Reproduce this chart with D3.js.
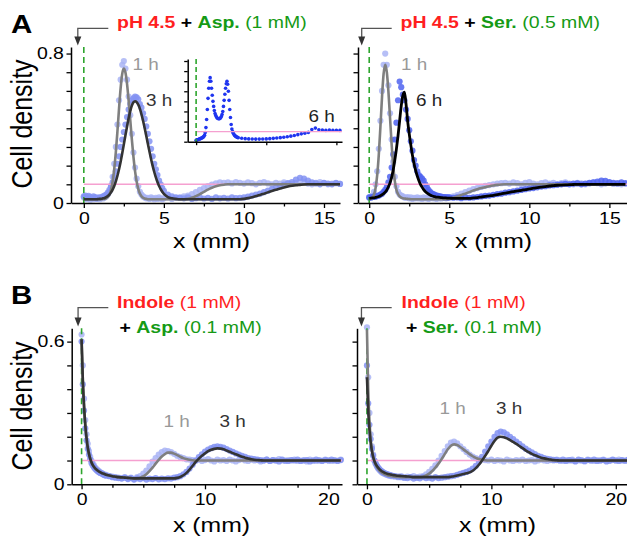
<!DOCTYPE html>
<meta charset="utf-8">
<script src="https://d3js.org/d3.v7.min.js"></script>
<style>
  body { margin: 0; background: #fff; }
  svg { display: block; font-family: Arial, "Liberation Sans", sans-serif; }
</style>
<div id="chart"></div>
<script>
// ---------- data ----------
const uniformLevel = 0.1;

// panel A sample positions (mm)
const xA = [0,0.1,0.2,0.3,0.4,0.5,0.6,0.7,0.8,0.9,1,1.1,1.2,1.3,1.4,1.5,1.6,1.7,1.8,1.9,2,2.1,2.2,2.3,2.4,2.5,2.6,2.7,2.8,2.9,3,3.1,3.2,3.3,3.4,3.5,3.6,3.7,3.8,3.9,4,4.1,4.2,4.3,4.4,4.5,4.6,4.7,4.8,4.9,5,5.25,5.5,5.75,6,6.25,6.5,6.75,7,7.25,7.5,7.75,8,8.25,8.5,8.75,9,9.25,9.5,9.75,10,10.25,10.5,10.75,11,11.25,11.5,11.75,12,12.25,12.5,12.75,13,13.25,13.5,13.75,14,14.25,14.5,14.75,15,15.25,15.5,15.75,16];

// A left: pH 4.5 + Asp. (1 mM)
const aspFit1h = [0.02,0.02,0.02,0.02,0.02,0.02,0.02,0.02,0.02,0.02,
  0.02,0.02,0.021,0.022,0.025,0.032,0.046,0.071,0.115,0.181,
  0.272,0.384,0.505,0.615,0.692,0.72,0.698,0.638,0.548,0.445,
  0.34,0.247,0.171,0.115,0.076,0.051,0.036,0.028,0.024,0.022,
  0.02,0.02,0.02,0.02,0.02,0.02,0.02,0.02,0.02,0.02,0.02,
  0.02,0.02,0.02,0.02,0.02,0.022,0.028,0.037,0.048,0.06,0.072,0.082,0.09,0.095,0.098,
  0.1,0.1,0.1,0.1,0.1,0.1,0.1,0.1,0.1,0.1,0.1,0.1,0.1,0.1,0.1,0.1,0.1,0.1,0.1,0.1,0.1,0.1,0.1,0.1,0.1,0.1,0.1,0.1,0.1];
const aspFit3h = [0.02,0.02,0.02,0.02,0.02,0.02,0.02,0.02,0.02,0.021,
  0.022,0.023,0.025,0.027,0.031,0.037,0.045,0.057,0.072,0.091,
  0.116,0.146,0.181,0.221,0.266,0.314,0.363,0.41,0.455,0.492,
  0.521,0.539,0.545,0.54,0.527,0.505,0.475,0.44,0.401,0.36,
  0.317,0.276,0.236,0.199,0.166,0.137,0.112,0.091,0.074,0.06,0.049,
  0.032,0.025,0.022,0.02,0.02,0.02,0.02,0.02,0.02,0.02,0.02,0.02,0.02,0.02,0.02,0.02,0.02,0.02,0.02,
  0.022,0.026,0.031,0.037,0.043,0.05,0.057,0.064,0.071,0.077,0.083,0.088,0.092,0.095,0.097,0.099,
  0.1,0.1,0.1,0.1,0.1,0.1,0.1,0.1,0.1];
const aspDots1h = [0.03,0.025,0.02,0.028,0.018,0.024,0.02,0.03,0.022,0.026,
  0.02,0.028,0.024,0.03,0.035,0.045,0.06,0.09,0.14,0.21,
  0.3,0.42,0.55,0.66,0.74,0.76,0.72,0.66,0.57,0.47,
  0.37,0.27,0.19,0.13,0.09,0.06,0.045,0.035,0.03,0.025,
  0.028,0.022,0.03,0.025,0.02,0.027,0.022,0.03,0.024,0.02,0.026,
  0.03,0.022,0.028,0.03,0.035,0.04,0.048,0.058,0.07,0.08,0.09,0.098,0.105,0.11,0.108,
  0.11,0.105,0.112,0.108,0.104,0.11,0.106,0.1,0.108,0.112,0.105,0.1,0.108,0.104,0.11,0.106,0.102,0.108,0.112,0.115,0.104,0.1,0.108,0.112,0.106,0.1,0.104,0.108,0.102];
const aspDots3h = [0.035,0.04,0.03,0.038,0.032,0.028,0.035,0.03,0.025,0.03,
  0.028,0.032,0.035,0.04,0.045,0.055,0.07,0.09,0.11,0.14,
  0.17,0.21,0.25,0.3,0.34,0.38,0.42,0.46,0.5,0.53,
  0.55,0.56,0.57,0.565,0.555,0.53,0.51,0.48,0.45,0.41,
  0.37,0.33,0.29,0.25,0.21,0.18,0.15,0.12,0.1,0.08,0.065,
  0.045,0.035,0.03,0.028,0.025,0.03,0.022,0.026,0.03,0.024,0.028,0.022,0.03,0.025,0.028,0.024,0.03,0.026,0.028,
  0.03,0.034,0.04,0.045,0.05,0.058,0.066,0.075,0.082,0.09,0.098,0.105,0.112,0.125,0.135,0.13,
  0.12,0.11,0.105,0.1,0.108,0.104,0.1,0.106,0.102];

// A left inset: 6 h
const xInset = [0,0.1,0.2,0.3,0.4,0.5,0.6,0.7,0.8,0.9,1,1.1,1.2,1.3,1.4,1.5,1.6,1.7,1.8,1.9,2,2.1,2.2,2.3,2.4,2.5,2.6,2.7,2.8,2.9,3,3.1,3.2,3.3,3.4,3.5,3.6,3.7,3.8,3.9,4,4.1,4.2,4.3,4.4,4.5,4.6,4.7,4.8,4.9,5,5.1,5.2,5.3,5.4,5.5,5.6,5.7,5.8,5.9,6,6.5,7,7.5,8,8.5,9,9.5,10,10.5,11,11.5,12,12.5,13,13.5,14,14.5,15,15.5,16,16.5,17,17.5,18,18.5,19,19.5,20,20.5];
const aspDots6h = [0.015,0.02,0.02,0.022,0.025,0.028,0.03,0.033,0.036,0.04,
  0.045,0.052,0.065,0.09,0.14,0.22,0.32,0.43,0.53,0.6,
  0.635,0.6,0.53,0.46,0.4,0.35,0.31,0.28,0.26,0.245,
  0.235,0.23,0.228,0.228,0.23,0.238,0.25,0.27,0.3,0.35,
  0.41,0.47,0.53,0.575,0.6,0.57,0.5,0.41,0.32,0.24,
  0.17,0.125,0.1,0.085,0.072,0.062,0.055,0.05,0.046,0.042,0.04,
  0.034,0.03,0.028,0.027,0.026,0.026,0.027,0.028,0.03,0.033,0.036,0.04,0.044,0.049,0.055,0.062,0.07,0.078,0.085,0.092,0.12,0.135,0.118,0.116,0.112,0.115,0.114,0.113,0.112];

// A right: pH 4.5 + Ser. (0.5 mM)
const serFit1h = [0.021,0.023,0.029,0.045,0.081,0.15,0.26,0.409,0.567,0.692,
  0.74,0.701,0.596,0.457,0.316,0.199,0.117,0.07,0.048,0.035,
  0.029,0.026,0.024,0.023,0.022,0.021,0.02,0.02,0.02,0.02,
  0.02,0.02,0.02,0.02,0.02,0.02,0.02,0.02,0.02,0.02,
  0.02,0.02,0.02,0.02,0.02,0.02,0.02,0.02,0.02,0.021,0.022,
  0.028,0.035,0.043,0.05,0.058,0.067,0.074,0.08,0.085,0.09,0.094,0.097,0.099,
  0.1,0.1,0.1,0.1,0.1,0.1,0.1,0.1,0.1,0.1,0.1,0.1,0.1,0.1,0.1,0.1,0.1,0.1,0.1,0.1,0.1,0.1,0.1,0.1,0.1,0.1,0.1,0.1,0.1,0.1,0.1];
const serFit6h = [0.025,0.026,0.027,0.028,0.03,0.032,0.035,0.039,0.044,0.05,
  0.058,0.07,0.087,0.108,0.138,0.178,0.23,0.29,0.36,0.44,
  0.52,0.575,0.594,0.53,0.44,0.37,0.31,0.255,0.21,0.175,
  0.145,0.12,0.1,0.085,0.072,0.062,0.054,0.048,0.043,0.039,
  0.036,0.034,0.032,0.031,0.03,0.029,0.028,0.027,0.027,0.026,0.026,
  0.025,0.025,0.025,0.025,0.025,
  0.027,0.029,0.032,0.035,0.038,0.041,0.045,0.049,0.053,0.057,0.061,0.065,0.068,0.072,0.075,0.079,0.082,0.085,0.088,0.091,0.093,0.095,0.096,0.097,0.098,0.099,
  0.1,0.1,0.1,0.1,0.1,0.1,0.1,0.1,0.1,0.1,0.1,0.1,0.1];
const serDots1h = [0.03,0.035,0.04,0.06,0.1,0.17,0.29,0.44,0.6,0.74,
  0.8,0.74,0.63,0.48,0.34,0.22,0.14,0.09,0.06,0.045,
  0.04,0.035,0.03,0.028,0.032,0.025,0.03,0.022,0.028,0.025,
  0.03,0.024,0.028,0.022,0.03,0.025,0.028,0.022,0.026,0.03,
  0.025,0.028,0.022,0.03,0.026,0.024,0.028,0.03,0.025,0.028,0.032,
  0.036,0.042,0.05,0.058,0.066,0.074,0.08,0.086,0.092,0.096,0.1,0.104,0.106,
  0.108,0.104,0.11,0.106,0.1,0.108,0.112,0.104,0.1,0.106,0.11,0.104,0.108,0.1,0.106,0.11,0.104,0.1,0.108,0.105,0.1,0.104,0.11,0.106,0.1,0.104,0.108,0.102,0.106,0.1,0.104];
const serDots6h = [0.03,0.028,0.032,0.035,0.033,0.038,0.04,0.045,0.05,0.06,
  0.07,0.085,0.11,0.14,0.19,0.26,0.34,0.43,0.55,0.65,
  0.62,0.58,0.55,0.5,0.45,0.39,0.33,0.28,0.23,0.2,
  0.17,0.15,0.14,0.13,0.12,0.1,0.085,0.07,0.06,0.052,
  0.048,0.044,0.04,0.038,0.035,0.034,0.032,0.03,0.032,0.029,0.03,
  0.028,0.03,0.026,0.03,0.028,
  0.03,0.032,0.035,0.038,0.04,0.044,0.048,0.05,0.055,0.058,0.062,0.066,0.07,0.074,0.078,0.08,0.084,0.088,0.09,0.094,0.095,0.098,0.1,0.102,0.1,0.104,
  0.105,0.1,0.104,0.108,0.11,0.115,0.12,0.118,0.112,0.108,0.105,0.11,0.106];

// panel B sample positions (mm)
const xB = [0,0.1,0.2,0.3,0.4,0.5,0.6,0.7,0.8,0.9,1,1.1,1.2,1.3,1.4,1.5,1.6,1.7,1.8,1.9,2,2.25,2.5,2.75,3,3.25,3.5,3.75,4,4.25,4.5,4.75,5,5.25,5.5,5.75,6,6.25,6.5,6.75,7,7.25,7.5,7.75,8,8.25,8.5,8.75,9,9.25,9.5,9.75,10,10.25,10.5,10.75,11,11.25,11.5,11.75,12,12.25,12.5,12.75,13,13.25,13.5,13.75,14,14.25,14.5,14.75,15,15.25,15.5,15.75,16,16.25,16.5,16.75,17,17.25,17.5,17.75,18,18.25,18.5,18.75,19,19.25,19.5,19.75,20,20.25,20.5,20.75,21];

// B left: Indole (1 mM) + Asp. (0.1 mM)
const indAspFit1h = [0.61,0.44,0.33,0.25,0.195,0.155,0.128,0.108,0.093,0.082,
  0.074,0.067,0.062,0.058,0.054,0.051,0.048,0.046,0.044,0.042,0.04,
  0.037,0.034,0.032,0.03,0.029,0.028,0.027,0.026,0.025,0.026,0.028,0.033,0.042,0.055,0.07,0.087,0.103,0.117,0.127,
  0.133,0.133,0.129,0.123,0.116,0.11,0.106,0.103,0.101,
  0.1,0.1,0.1,0.1,0.1,0.1,0.1,0.1,0.1,0.1,0.1,0.1,0.1,0.1,0.1,0.1,0.1,0.1,0.1,0.1,0.1,0.1,0.1,0.1,
  0.1,0.1,0.1,0.1,0.1,0.1,0.1,0.1,0.1,0.1,0.1,0.1,0.1,0.1,0.1,0.1,0.1,0.1,0.1,0.1,0.1,0.1,0.1,0.1];
const indAspFit3h = [0.61,0.44,0.33,0.25,0.195,0.155,0.128,0.108,0.093,0.082,
  0.074,0.067,0.062,0.058,0.054,0.051,0.048,0.046,0.044,0.042,0.04,
  0.037,0.034,0.032,0.03,0.029,0.028,0.027,0.026,
  0.025,0.025,0.025,0.025,0.025,0.025,0.025,0.025,0.025,0.025,0.025,0.025,0.025,0.025,
  0.027,0.031,0.038,0.048,0.062,0.078,0.094,0.108,0.12,0.13,0.139,0.145,0.149,0.151,0.15,0.147,0.142,0.137,0.131,0.126,0.121,0.116,0.112,0.108,0.105,0.103,0.102,0.101,
  0.1,0.1,0.1,0.1,0.1,0.1,0.1,0.1,0.1,0.1,0.1,0.1,0.1,0.1,0.1,0.1,0.1,0.1,0.1,0.1,0.1,0.1,0.1,0.1,0.1,0.1];
const indAspDots1h = [0.63,0.5,0.36,0.27,0.21,0.17,0.14,0.115,0.1,0.088,
  0.08,0.07,0.065,0.06,0.055,0.05,0.048,0.045,0.042,0.04,0.04,
  0.035,0.032,0.03,0.028,0.026,0.03,0.024,0.028,0.022,0.03,0.035,0.045,0.058,0.075,0.095,0.11,0.125,0.135,0.142,0.14,0.135,0.128,0.12,0.114,0.11,0.105,0.104,0.102,
  0.1,0.104,0.098,0.102,0.106,0.1,0.096,0.104,0.1,0.102,0.098,0.104,0.1,0.096,0.102,0.106,0.1,0.098,0.104,0.1,0.102,0.096,0.1,0.104,
  0.098,0.102,0.1,0.106,0.1,0.098,0.102,0.1,0.104,0.098,0.1,0.102,0.096,0.104,0.1,0.098,0.102,0.1,0.104,0.1,0.098,0.102,0.1,0.104];
const indAspDots3h = [0.6,0.42,0.31,0.235,0.185,0.15,0.125,0.105,0.09,0.08,
  0.072,0.065,0.06,0.055,0.052,0.048,0.046,0.043,0.04,0.038,0.036,
  0.034,0.03,0.028,0.026,0.024,0.028,0.022,0.026,0.02,0.025,0.022,0.026,0.02,0.024,0.022,0.026,0.021,0.024,0.022,0.025,0.024,0.028,
  0.03,0.034,0.042,0.052,0.066,0.082,0.1,0.114,0.126,0.138,0.146,0.152,0.158,0.16,0.158,0.154,0.148,0.142,0.136,0.13,0.125,0.12,0.115,0.11,0.108,0.106,0.104,0.102,
  0.1,0.104,0.098,0.102,0.1,0.096,0.104,0.1,0.098,0.102,0.1,0.104,0.098,0.1,0.102,0.096,0.1,0.104,0.1,0.098,0.102,0.1,0.104,0.1,0.098,0.102];

// B right: Indole (1 mM) + Ser. (0.1 mM)
const indSerFit1h = [0.65,0.4,0.27,0.19,0.145,0.115,0.095,0.082,0.072,0.064,
  0.058,0.053,0.049,0.046,0.043,0.041,0.039,0.037,0.036,0.035,0.034,
  0.032,0.031,0.03,0.03,0.03,0.03,0.03,0.03,0.03,
  0.032,0.037,0.045,0.056,0.07,0.087,0.106,0.127,0.147,0.162,0.168,0.165,0.157,0.147,0.137,0.127,0.118,0.111,0.106,0.103,0.101,
  0.1,0.1,0.1,0.1,0.1,0.1,0.1,0.1,0.1,0.1,0.1,0.1,0.1,0.1,0.1,0.1,0.1,0.1,0.1,0.1,0.1,0.1,0.1,
  0.1,0.1,0.1,0.1,0.1,0.1,0.1,0.1,0.1,0.1,0.1,0.1,0.1,0.1,0.1,0.1,0.1,0.1,0.1,0.1,0.1,0.1,0.1];
const indSerFit3h = [0.45,0.31,0.23,0.175,0.14,0.115,0.098,0.086,0.077,0.07,
  0.064,0.059,0.055,0.052,0.049,0.047,0.045,0.043,0.042,0.041,0.04,
  0.038,0.036,0.035,0.034,0.033,0.032,
  0.03,0.03,0.03,0.03,0.03,0.03,0.03,0.03,0.03,0.03,0.03,0.03,
  0.032,0.034,0.037,0.04,0.043,0.046,0.05,0.057,0.068,0.082,0.1,0.12,0.14,0.162,0.182,0.196,0.2,0.198,0.193,0.186,0.178,0.17,0.161,0.152,0.143,0.135,0.128,0.122,0.117,0.112,0.109,0.106,0.104,0.102,0.101,
  0.1,0.1,0.1,0.1,0.1,0.1,0.1,0.1,0.1,0.1,0.1,0.1,0.1,0.1,0.1,0.1,0.1,0.1,0.1,0.1,0.1,0.1,0.1];
const indSerDots1h = [0.66,0.45,0.3,0.21,0.16,0.125,0.1,0.085,0.075,0.066,
  0.06,0.055,0.05,0.047,0.044,0.042,0.04,0.038,0.036,0.035,0.034,
  0.032,0.03,0.034,0.028,0.032,0.03,0.034,0.028,0.032,
  0.035,0.042,0.052,0.065,0.08,0.1,0.12,0.14,0.16,0.175,0.18,0.172,0.16,0.148,0.136,0.125,0.116,0.11,0.106,0.104,0.102,
  0.1,0.104,0.098,0.102,0.1,0.096,0.104,0.1,0.098,0.102,0.1,0.104,0.098,0.1,0.102,0.096,0.1,0.104,0.1,0.098,0.102,0.1,0.104,
  0.1,0.098,0.102,0.1,0.104,0.098,0.1,0.102,0.096,0.104,0.1,0.098,0.102,0.1,0.104,0.1,0.098,0.102,0.1,0.104,0.1,0.098,0.102];
const indSerDots3h = [0.5,0.34,0.25,0.19,0.15,0.12,0.1,0.088,0.078,0.07,
  0.064,0.058,0.054,0.05,0.047,0.045,0.043,0.041,0.04,0.038,0.037,
  0.035,0.032,0.03,0.028,0.026,0.03,0.024,0.028,0.025,0.03,0.026,0.028,0.024,0.03,0.026,0.028,0.03,0.032,
  0.034,0.036,0.04,0.044,0.048,0.052,0.058,0.066,0.078,0.095,0.115,0.138,0.16,0.18,0.2,0.215,0.222,0.218,0.21,0.2,0.19,0.18,0.17,0.16,0.15,0.142,0.134,0.127,0.12,0.115,0.11,0.107,0.105,0.103,0.102,
  0.1,0.104,0.098,0.102,0.1,0.096,0.104,0.1,0.098,0.102,0.1,0.104,0.098,0.1,0.102,0.096,0.1,0.104,0.1,0.098,0.102,0.1,0.104];

// ticks
const yTicksA = [0,0.1,0.2,0.3,0.4,0.5,0.6,0.7,0.8];
const yTicksB = [0,0.1,0.2,0.3,0.4,0.5,0.6];
const xMajorA = [0,5,10,15], xMinorA = [2.5,7.5,12.5];
const xMajorB = [0,10,20], xMinorB = [2.5,5,7.5,12.5,15,17.5];
const xTicksInset = [0,10,20];

// ---------- drawing ----------
const SX = 1.18; // figure text is slightly wide
const col = {
  light: "#a9b4f5", mid: "#8292f2", deep: "#4f63f0", inset: "#1f35f0",
  fit1h: "#7f7f7f", fit3h: "#333333", fit6h: "#000000",
  pink: "#f5a0d0", green: "#2ea52e", red: "#ff1f1f", dgreen: "#159a15"
};

const svg = d3.select("#chart").append("svg")
  .attr("width", 627).attr("height", 540);

function addText(parent, x, y, str, o = {}) {
  const t = parent.append("text")
    .attr("transform", `translate(${x},${y}) scale(${SX},1)` + (o.rotate ? ` rotate(${o.rotate})` : ""))
    .attr("font-size", o.size || 16)
    .attr("font-weight", o.weight || "normal")
    .attr("fill", o.fill || "#000")
    .attr("text-anchor", o.anchor || "start");
  if (str != null) t.text(str);
  return t;
}

function title(x, y, parts) {
  const t = addText(svg, x, y, null, { size: 16.5 });
  parts.forEach(p => t.append("tspan").attr("fill", p[1]).attr("font-weight", p[2] ? "bold" : "normal").text(p[0]));
}

function arrow(x0, xTip, yTop, yTip) {
  svg.append("path")
    .attr("d", `M${x0},${yTop}H${xTip}V${yTip - 7}`)
    .attr("fill", "none").attr("stroke", "#555").attr("stroke-width", 1.3);
  svg.append("path")
    .attr("d", `M${xTip - 3.5},${yTip - 9}L${xTip + 3.5},${yTip - 9}L${xTip},${yTip}Z`)
    .attr("fill", "#333");
}

function panel(p) {
  const g = svg.append("g");
  const x = d3.scaleLinear().domain(p.xDom).range(p.xRange);
  const y = d3.scaleLinear().domain(p.yDom).range(p.yRange);

  p.dots.forEach(s => {
    g.append("g").selectAll("circle")
      .data(d3.zip(p.xs, s.ys))
      .join("circle")
      .attr("cx", d => x(d[0])).attr("cy", d => y(d[1]))
      .attr("r", s.r || 3.1)
      .attr("fill", s.color).attr("fill-opacity", s.op || 0.85);
  });

  // uniform density reference
  g.append("line")
    .attr("x1", x(0)).attr("x2", p.xRange[1])
    .attr("y1", y(uniformLevel)).attr("y2", y(uniformLevel))
    .attr("stroke", col.pink).attr("stroke-width", 1.4);

  // source position
  g.append("line")
    .attr("x1", x(0)).attr("x2", x(0))
    .attr("y1", p.yRange[1]).attr("y2", p.yRange[0])
    .attr("stroke", col.green).attr("stroke-width", 1.6)
    .attr("stroke-dasharray", p.dash || "6,4");

  const line = d3.line().x(d => x(d[0])).y(d => y(d[1])).curve(d3.curveMonotoneX);
  (p.fits || []).forEach(f => {
    g.append("path")
      .datum(d3.zip(p.xs, f.ys))
      .attr("d", line)
      .attr("fill", "none").attr("stroke", f.color)
      .attr("stroke-width", f.w || 2.6).attr("stroke-linejoin", "round");
  });

  // axes
  const yAxis = d3.axisLeft(y).tickValues(p.yTicks).tickSize(p.tick || 4.5).tickSizeOuter(0)
    .tickFormat(d => (p.yLabels && (d === 0 || d === p.yTicks[p.yTicks.length - 1])) ? String(d) : "");
  const ga = g.append("g").attr("transform", `translate(${p.xRange[0]},0)`).call(yAxis);
  const xAxis = d3.axisBottom(x).tickValues(p.xMajor).tickSize(p.tick || 5).tickSizeOuter(0)
    .tickFormat(d => p.xLabels === false ? "" : String(d));
  const gx = g.append("g").attr("transform", `translate(0,${p.yRange[0]})`).call(xAxis);
  [ga, gx].forEach(a => {
    a.select(".domain").attr("stroke", "#000").attr("stroke-width", 1.5);
    a.selectAll(".tick line").attr("stroke", "#000").attr("stroke-width", 1.3);
    a.selectAll("text").attr("font-size", 16.5).attr("fill", "#000")
      .attr("font-family", "Arial, 'Liberation Sans', sans-serif");
  });
  ga.selectAll("text").attr("x", -6).attr("transform", `scale(${SX},1)`);
  gx.selectAll("text").attr("y", 21).attr("dy", 0).attr("transform", `scale(${SX},1)`);
  if (p.xMinor) {
    const gm = g.append("g").attr("transform", `translate(0,${p.yRange[0]})`)
      .call(d3.axisBottom(x).tickValues(p.xMinor).tickSize(3.5).tickFormat(""));
    gm.select(".domain").remove();
    gm.selectAll(".tick line").attr("stroke", "#000").attr("stroke-width", 1.3);
  }
  return { x, y };
}

// ----- panel A, left -----
const aL = panel({
  xs: xA, xDom: [-0.8, 16], xRange: [71, 340], yDom: [0, 0.835], yRange: [203, 47],
  yTicks: yTicksA, yLabels: true, xMajor: xMajorA, xMinor: xMinorA,
  dots: [{ ys: aspDots1h, color: col.light }, { ys: aspDots3h, color: col.mid }],
  fits: [{ ys: aspFit1h, color: col.fit1h }, { ys: aspFit3h, color: col.fit3h }]
});

// inset (6 h)
panel({
  xs: xInset, xDom: [-1.2, 20.8], xRange: [187.7, 342], yDom: [0, 0.82], yRange: [141.7, 59],
  yTicks: yTicksA, yLabels: false, xMajor: xTicksInset, xLabels: false, tick: 3.5, dash: "5,3",
  dots: [{ ys: aspDots6h, color: col.inset, r: 1.8, op: 1 }], fits: []
});

// ----- panel A, right -----
const aR = panel({
  xs: xA, xDom: [-0.7, 16.1], xRange: [358, 627], yDom: [0, 0.835], yRange: [203, 47],
  yTicks: yTicksA, yLabels: false, xMajor: xMajorA, xMinor: xMinorA,
  dots: [{ ys: serDots1h, color: col.light }, { ys: serDots6h, color: col.deep }],
  fits: [{ ys: serFit1h, color: col.fit1h }, { ys: serFit6h, color: col.fit6h, w: 2.8 }]
});

// ----- panel B, left -----
const bL = panel({
  xs: xB, xDom: [-0.8, 21.1], xRange: [71.7, 342], yDom: [0, 0.656], yRange: [484.3, 328.3],
  yTicks: yTicksB, yLabels: true, xMajor: xMajorB, xMinor: xMinorB,
  dots: [{ ys: indAspDots1h, color: col.light }, { ys: indAspDots3h, color: col.mid }],
  fits: [{ ys: indAspFit1h, color: col.fit1h }, { ys: indAspFit3h, color: col.fit3h }]
});

// ----- panel B, right -----
const bR = panel({
  xs: xB, xDom: [-0.8, 20.9], xRange: [357, 627], yDom: [0, 0.656], yRange: [484.3, 328.3],
  yTicks: yTicksB, yLabels: false, xMajor: xMajorB, xMinor: xMinorB,
  dots: [{ ys: indSerDots1h, color: col.light }, { ys: indSerDots3h, color: col.mid }],
  fits: [{ ys: indSerFit1h, color: col.fit1h }, { ys: indSerFit3h, color: col.fit3h }]
});

// ---------- labels ----------
addText(svg, 11, 33, "A", { size: 25, weight: "bold" });
addText(svg, 11, 304, "B", { size: 25, weight: "bold" });

title(117, 27.5, [["pH 4.5", col.red, 1], [" + ", "#000", 1], ["Asp.", col.dgreen, 1], [" (1 mM)", col.dgreen, 0]]);
title(400.5, 27.5, [["pH 4.5", col.red, 1], [" + ", "#000", 1], ["Ser.", col.dgreen, 1], [" (0.5 mM)", col.dgreen, 0]]);
title(117, 308.3, [["Indole", col.red, 1], [" (1 mM)", col.red, 0]]);
title(119.5, 333.3, [["+ ", "#000", 1], ["Asp.", col.dgreen, 1], [" (0.1 mM)", col.dgreen, 0]]);
title(401.5, 308.3, [["Indole", col.red, 1], [" (1 mM)", col.red, 0]]);
title(406, 333.3, [["+ ", "#000", 1], ["Ser.", col.dgreen, 1], [" (0.1 mM)", col.dgreen, 0]]);

arrow(108.3, aL.x(0) - 6, 28.3, 45.5);
arrow(391.7, aR.x(0) - 7.5, 28.3, 45.5);
arrow(108.3, bL.x(0) - 3.5, 307.7, 326.5);
arrow(391.7, bR.x(0) - 5.5, 307.7, 326.5);

addText(svg, 31.5, 124, "Cell density", { size: 25, rotate: -90, anchor: "middle" });
addText(svg, 31.5, 406, "Cell density", { size: 25, rotate: -90, anchor: "middle" });
addText(svg, 211.5, 248, "x (mm)", { size: 21, anchor: "middle" });
addText(svg, 493.5, 248, "x (mm)", { size: 21, anchor: "middle" });
addText(svg, 211.5, 532, "x (mm)", { size: 21, anchor: "middle" });
addText(svg, 497.5, 532, "x (mm)", { size: 21, anchor: "middle" });

addText(svg, 132.5, 70, "1 h", { size: 16, fill: "#999" });
addText(svg, 146, 105.5, "3 h", { size: 16, fill: "#333" });
addText(svg, 308.5, 121.5, "6 h", { size: 16, fill: "#222" });
addText(svg, 401, 70, "1 h", { size: 16, fill: "#999" });
addText(svg, 416, 106, "6 h", { size: 16, fill: "#222" });
addText(svg, 163.5, 426.5, "1 h", { size: 16, fill: "#999" });
addText(svg, 219.5, 426.5, "3 h", { size: 16, fill: "#333" });
addText(svg, 439.5, 414, "1 h", { size: 16, fill: "#999" });
addText(svg, 496, 414, "3 h", { size: 16, fill: "#333" });
</script>
